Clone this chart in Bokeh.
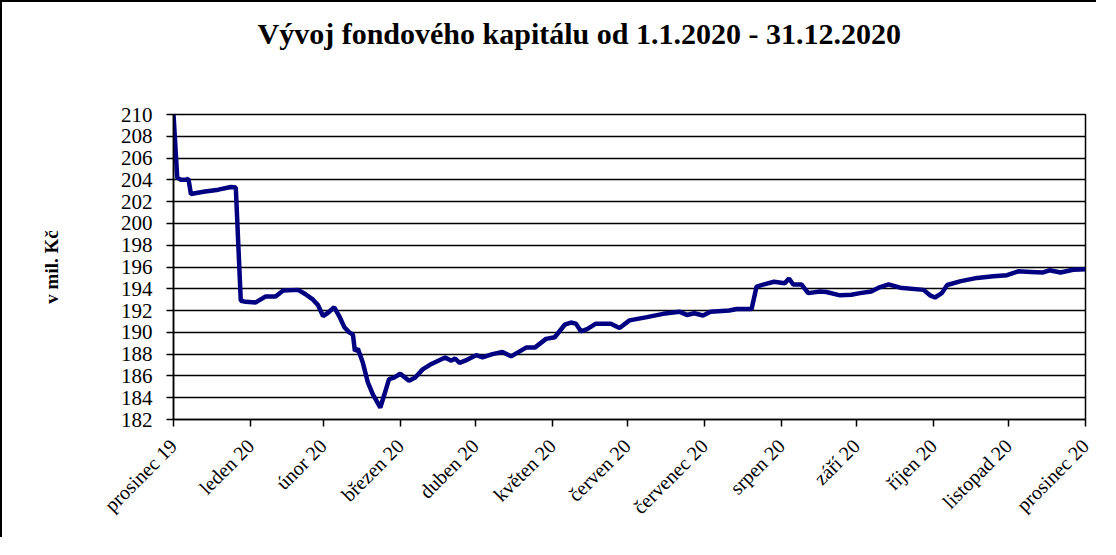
import math
from bokeh.plotting import figure
from bokeh.models import Range1d, FixedTicker, Title
from bokeh.embed import file_html
from bokeh.resources import INLINE

title_text = "Vývoj fondového kapitálu od 1.1.2020 - 31.12.2020"
y_label = "v mil. Kč"
month_labels = ["prosinec 19", "leden 20", "únor 20", "březen 20", "duben 20",
                "květen 20", "červen 20", "červenec 20", "srpen 20", "září 20",
                "říjen 20", "listopad 20", "prosinec 20"]
month_lengths = [31, 29, 31, 30, 31, 30, 31, 31, 30, 31, 30, 31]
y_ticks = list(range(182, 211, 2))

# day offset from 31.12.2019, fund capital in mil. Kč
days = [0, 1.5, 3, 5, 6, 7, 12, 18, 23, 25, 27, 29, 33, 37, 41, 44, 50, 53, 56, 58,
        60, 62, 64.5, 66.5, 68.5, 70.5, 72, 72.8, 74, 76, 78, 80, 83, 84.5, 86.5, 88.5,
        91, 94.5, 97, 100, 103.5, 109, 111.5, 113, 114.8, 118, 121.5, 124, 128, 132,
        135.5, 141.5, 145, 149.5, 153, 157, 159.5, 161.5, 163.5, 166, 169.5, 175.5, 179,
        183, 190, 196.5, 203, 206, 209, 212.5, 215.5, 223, 226, 232, 234, 237, 241,
        245.3, 247, 248.7, 252, 254.7, 259.4, 262, 267.5, 272, 275.5, 280, 283, 287,
        291.6, 301, 303.6, 305.6, 308.3, 310.5, 316, 322.5, 329, 334.5, 339, 344, 349,
        351.5, 356, 361, 366]
values = [210.0, 204.2, 204.0, 204.0, 204.1, 202.7, 202.9, 203.1, 203.35, 203.3, 192.9,
          192.8, 192.75, 193.3, 193.3, 193.85, 193.9, 193.5, 193.0, 192.5,
          191.5, 191.8, 192.3, 191.5, 190.5, 190.0, 189.8, 188.3, 188.5, 187.2, 185.4,
          184.3, 183.1, 184.2, 185.7, 185.85,
          186.2, 185.55, 185.85, 186.6, 187.1, 187.7, 187.4, 187.6, 187.2, 187.5, 187.9,
          187.7, 188.0, 188.2,
          187.8, 188.6, 188.6, 189.4, 189.55, 190.7, 190.9, 190.8, 190.1, 190.3, 190.8,
          190.8, 190.4,
          191.1, 191.4, 191.7, 191.9, 191.6, 191.75, 191.55, 191.9, 192.0, 192.15, 192.15,
          194.2, 194.4, 194.65,
          194.5, 194.95, 194.4, 194.4, 193.6, 193.75, 193.7, 193.4, 193.45, 193.6, 193.75,
          194.1, 194.4,
          194.1, 193.9, 193.4, 193.2, 193.6, 194.35, 194.7, 195.0, 195.15, 195.25, 195.6,
          195.55, 195.5,
          195.7, 195.5, 195.75, 195.8]

tick_days = [0]
for m in month_lengths:
    tick_days.append(tick_days[-1] + m)

SERIF = "Liberation Serif"

p = figure(width=1096, height=537, output_backend="svg", toolbar_location=None,
           x_range=Range1d(0, tick_days[-1]), y_range=Range1d(y_ticks[0], y_ticks[-1]),
           min_border_left=171, min_border_right=13, min_border_top=10,
           min_border_bottom=120)
p.styles = {"border-left": "2px solid #000", "border-top": "2px solid #000"}
p.title.text = ""

# spacer between title and plot frame (nearest to frame)
p.add_layout(Title(text=" ", text_font_size="10px", standoff=34), "above")
p.add_layout(Title(text=title_text, text_font=SERIF, text_font_size="30px",
                   text_font_style="bold", text_color="black", align="left",
                   offset=84, vertical_align="top", standoff=29.6), "above")

p.line(days, values, line_color="#000080", line_width=4.5)

p.outline_line_color = "black"
p.outline_line_width = 1.5
p.xgrid.grid_line_color = None
p.ygrid.grid_line_color = "black"
p.ygrid.grid_line_width = 1.5

p.xaxis.ticker = FixedTicker(ticks=tick_days)
p.xaxis.major_label_overrides = {d: lab for d, lab in zip(tick_days, month_labels)}
p.xaxis.major_label_orientation = math.pi / 4
p.yaxis.ticker = FixedTicker(ticks=y_ticks)

for ax in (p.xaxis[0], p.yaxis[0]):
    ax.axis_line_color = "black"
    ax.axis_line_width = 1.5
    ax.major_tick_line_color = "black"
    ax.major_tick_line_width = 1.5
    ax.major_tick_in = 0
    ax.major_tick_out = 7
    ax.minor_tick_in = 0
    ax.minor_tick_out = 0
    ax.major_label_text_font = SERIF
    ax.major_label_text_color = "black"

p.xaxis.major_label_text_font_size = "20px"
p.xaxis.major_label_standoff = 16
p.yaxis.major_label_text_font_size = "21px"
p.yaxis.major_label_standoff = 14
p.yaxis.axis_label = y_label
p.yaxis.axis_label_text_font = SERIF
p.yaxis.axis_label_text_font_size = "19px"
p.yaxis.axis_label_text_font_style = "bold"
p.yaxis.axis_label_text_color = "black"
p.yaxis.axis_label_standoff = 56

open("out.html", "w").write(file_html(p, INLINE))
